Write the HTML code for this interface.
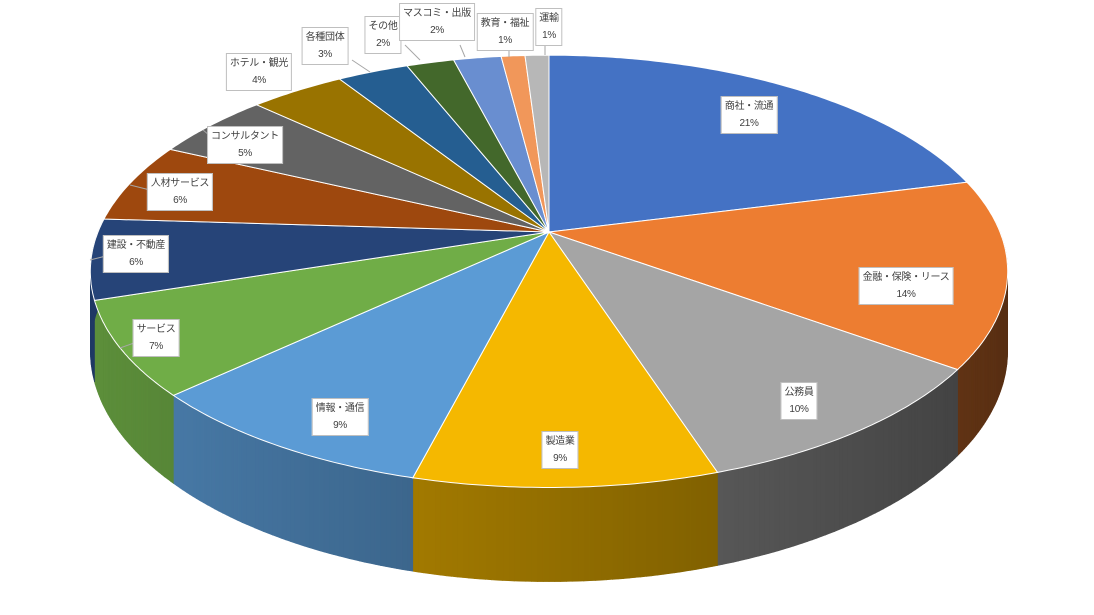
<!DOCTYPE html>
<html><head><meta charset="utf-8">
<style>
html,body{margin:0;padding:0;background:#fff;}
#wrap{position:relative;width:1094px;height:615px;overflow:hidden;font-family:"Liberation Sans","Noto Sans CJK JP",sans-serif;}
svg{position:absolute;left:0;top:0;}
.lb{position:absolute;background:#fff;border:1px solid #bfbfbf;font-size:10px;line-height:17px;color:#404040;text-align:center;padding:1px 3px;white-space:nowrap;transform:translate(-50%,-50%);letter-spacing:-0.3px;}
</style></head><body>
<div id="wrap">
<svg id="s" width="1094" height="615" viewBox="0 0 1094 615"></svg>
<div class="lb" style="left:749px;top:115px">商社・流通<br>21%</div>
<div class="lb" style="left:906px;top:286px">金融・保険・リース<br>14%</div>
<div class="lb" style="left:799px;top:401px">公務員<br>10%</div>
<div class="lb" style="left:560px;top:450px">製造業<br>9%</div>
<div class="lb" style="left:340px;top:417px">情報・通信<br>9%</div>
<div class="lb" style="left:156px;top:338px">サービス<br>7%</div>
<div class="lb" style="left:136px;top:254px">建設・不動産<br>6%</div>
<div class="lb" style="left:180px;top:192px">人材サービス<br>6%</div>
<div class="lb" style="left:245px;top:145px">コンサルタント<br>5%</div>
<div class="lb" style="left:259px;top:72px">ホテル・観光<br>4%</div>
<div class="lb" style="left:325px;top:46px">各種団体<br>3%</div>
<div class="lb" style="left:383px;top:35px">その他<br>2%</div>
<div class="lb" style="left:437px;top:22px">マスコミ・出版<br>2%</div>
<div class="lb" style="left:505px;top:32px">教育・福祉<br>1%</div>
<div class="lb" style="left:549px;top:27px">運輸<br>1%</div>
</div>
<script>
var data=[[21,"#4472C4"],[14,"#ED7D31"],[10,"#A5A5A5"],[9,"#F5B800"],[9,"#5B9BD5"],[7,"#70AD47"],[6,"#264478"],[6,"#9E480E"],[5,"#636363"],[4,"#997300"],[3,"#255E91"],[2,"#43682B"],[2,"#698ED0"],[1,"#F1975A"],[1,"#B7B7B7"]];
var cx=549,cy=232,A=451,B=209,k=0.182,H=77;
function P(th,dz){var u=Math.sin(th),v=-Math.cos(th),s=1/(1-k*v);return [cx+A*u*s,cy+B*v*s+(dz?H*s:0)];}
function hex(c,f){var r=parseInt(c.substr(1,2),16),g=parseInt(c.substr(3,2),16),b=parseInt(c.substr(5,2),16);
return "rgb("+Math.round(r*f)+","+Math.round(g*f)+","+Math.round(b*f)+")";}
var walls="",tops="",a=0;
data.forEach(function(d){
 var a0=a*2*Math.PI/100,a1=(a+d[0])*2*Math.PI/100;a+=d[0];
 var n=Math.max(4,Math.ceil(d[0]*6)),pts=[];
 for(var i=0;i<=n;i++){var t=a0+(a1-a0)*i/n;pts.push(P(t,0));
  if(i<n){var t2=a0+(a1-a0)*(i+1)/n,tm=(t+t2)/2;
   if(Math.cos(tm)<0.05){var p1=P(t,0),p2=P(t2,0),p3=P(t2,1),p4=P(t,1);
    var f=0.6-0.24*Math.sin(tm);
    var col=hex(d[1],f);
    walls+='<polygon points="'+[p1,p2,p3,p4].map(function(p){return p[0].toFixed(1)+","+p[1].toFixed(1)}).join(" ")+'" fill="'+col+'" stroke="'+col+'" stroke-width="0.6"/>';}}}
 tops+='<polygon points="'+cx+','+cy+' '+pts.map(function(p){return p[0].toFixed(1)+","+p[1].toFixed(1)}).join(" ")+'" fill="'+d[1]+'" stroke="#fff" stroke-width="1"/>';
});
var lines='<g stroke="#a6a6a6" fill="none" stroke-width="1"><line x1="120" y1="348" x2="134" y2="343"/><line x1="90" y1="260" x2="106" y2="256"/><line x1="130" y1="185" x2="150" y2="190"/><line x1="203" y1="130" x2="215" y2="140"/><line x1="290" y1="80" x2="290" y2="90"/><line x1="352" y1="60" x2="370" y2="72"/><line x1="405" y1="45" x2="420" y2="60"/><line x1="460" y1="45" x2="465" y2="57"/><line x1="509" y1="50" x2="509" y2="57"/><line x1="545" y1="45" x2="545" y2="55"/></g>';
document.getElementById("s").innerHTML=walls+tops+lines;
</script>
</body></html>
